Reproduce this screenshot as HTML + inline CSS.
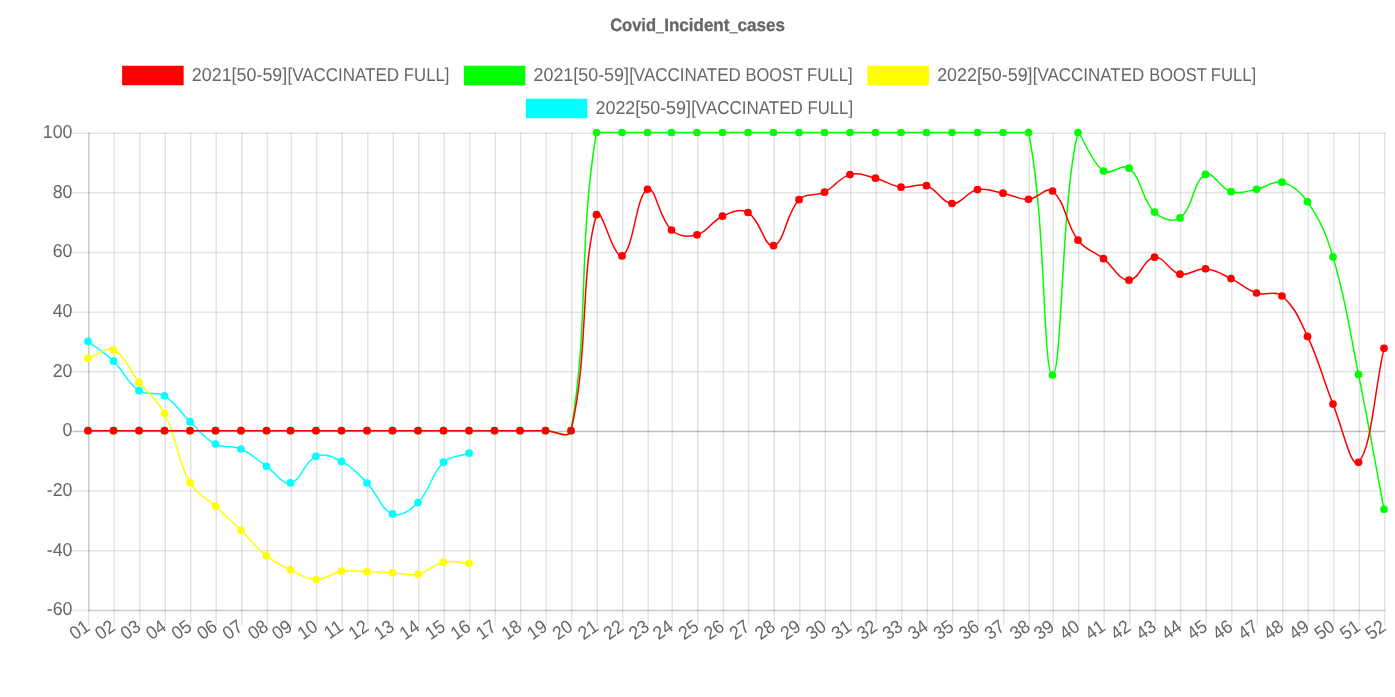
<!DOCTYPE html>
<html lang="en"><head><meta charset="utf-8"><title>Covid_Incident_cases</title>
<style>
html,body{margin:0;padding:0;background:#fff;overflow:hidden}
body{width:1395px;height:697px;font-family:"Liberation Sans", sans-serif}
svg{display:block;text-rendering:geometricPrecision}
</style></head><body>
<svg width="1395" height="697" viewBox="0 0 1395 697" font-family='"Liberation Sans", sans-serif' fill="#666">
<text y="30.90" font-size="17.9" font-weight="bold" stroke="#666" stroke-width="0.3"><tspan x="610.18" textLength="45.87" lengthAdjust="spacingAndGlyphs">Covid</tspan><tspan x="656.11" textLength="7.75" lengthAdjust="spacingAndGlyphs">_</tspan><tspan x="664.18" textLength="65.24" lengthAdjust="spacingAndGlyphs">Incident</tspan><tspan x="729.70" textLength="7.75" lengthAdjust="spacingAndGlyphs">_</tspan><tspan x="737.51" textLength="47.42" lengthAdjust="spacingAndGlyphs">cases</tspan></text>
<rect x="122.9" y="66.5" width="60" height="18" fill="#ff0000" stroke="#ff0000" stroke-width="1.5"/>
<text y="80.85" font-size="18.6" ><tspan x="191.83" textLength="95.43" lengthAdjust="spacingAndGlyphs">2021[50-59]</tspan><tspan x="287.43" textLength="111.60" lengthAdjust="spacingAndGlyphs">[VACCINATED</tspan> <tspan x="403.87" textLength="45.50" lengthAdjust="spacingAndGlyphs">FULL]</tspan></text>
<rect x="464.6" y="66.5" width="60" height="18" fill="#00ff00" stroke="#00ff00" stroke-width="1.5"/>
<text y="80.85" font-size="18.6" ><tspan x="533.53" textLength="95.43" lengthAdjust="spacingAndGlyphs">2021[50-59]</tspan><tspan x="629.13" textLength="111.60" lengthAdjust="spacingAndGlyphs">[VACCINATED</tspan> <tspan x="745.60" textLength="57.23" lengthAdjust="spacingAndGlyphs">BOOST</tspan> <tspan x="807.09" textLength="45.50" lengthAdjust="spacingAndGlyphs">FULL]</tspan></text>
<rect x="868.2" y="66.5" width="60" height="18" fill="#ffff00" stroke="#ffff00" stroke-width="1.5"/>
<text y="80.85" font-size="18.6" ><tspan x="937.13" textLength="95.43" lengthAdjust="spacingAndGlyphs">2022[50-59]</tspan><tspan x="1032.73" textLength="111.60" lengthAdjust="spacingAndGlyphs">[VACCINATED</tspan> <tspan x="1149.20" textLength="57.23" lengthAdjust="spacingAndGlyphs">BOOST</tspan> <tspan x="1210.69" textLength="45.50" lengthAdjust="spacingAndGlyphs">FULL]</tspan></text>
<rect x="526.6" y="99.5" width="60" height="18" fill="#00ffff" stroke="#00ffff" stroke-width="1.5"/>
<text y="113.85" font-size="18.6" ><tspan x="595.53" textLength="95.43" lengthAdjust="spacingAndGlyphs">2022[50-59]</tspan><tspan x="691.13" textLength="111.60" lengthAdjust="spacingAndGlyphs">[VACCINATED</tspan> <tspan x="807.57" textLength="45.50" lengthAdjust="spacingAndGlyphs">FULL]</tspan></text>
<g fill="none"><path d="M88.75 132.45V625.65" stroke="rgba(0,0,0,0.1)" stroke-width="1.5"/><path d="M114.25 132.45V625.65" stroke="rgba(0,0,0,0.1)" stroke-width="1.5"/><path d="M139.75 132.45V625.65" stroke="rgba(0,0,0,0.1)" stroke-width="1.5"/><path d="M165.25 132.45V625.65" stroke="rgba(0,0,0,0.1)" stroke-width="1.5"/><path d="M190.75 132.45V625.65" stroke="rgba(0,0,0,0.1)" stroke-width="1.5"/><path d="M216.25 132.45V625.65" stroke="rgba(0,0,0,0.1)" stroke-width="1.5"/><path d="M241.75 132.45V625.65" stroke="rgba(0,0,0,0.1)" stroke-width="1.5"/><path d="M267.25 132.45V625.65" stroke="rgba(0,0,0,0.1)" stroke-width="1.5"/><path d="M291.25 132.45V625.65" stroke="rgba(0,0,0,0.1)" stroke-width="1.5"/><path d="M316.75 132.45V625.65" stroke="rgba(0,0,0,0.1)" stroke-width="1.5"/><path d="M342.25 132.45V625.65" stroke="rgba(0,0,0,0.1)" stroke-width="1.5"/><path d="M367.75 132.45V625.65" stroke="rgba(0,0,0,0.1)" stroke-width="1.5"/><path d="M393.25 132.45V625.65" stroke="rgba(0,0,0,0.1)" stroke-width="1.5"/><path d="M418.75 132.45V625.65" stroke="rgba(0,0,0,0.1)" stroke-width="1.5"/><path d="M444.25 132.45V625.65" stroke="rgba(0,0,0,0.1)" stroke-width="1.5"/><path d="M469.75 132.45V625.65" stroke="rgba(0,0,0,0.1)" stroke-width="1.5"/><path d="M495.25 132.45V625.65" stroke="rgba(0,0,0,0.1)" stroke-width="1.5"/><path d="M520.75 132.45V625.65" stroke="rgba(0,0,0,0.1)" stroke-width="1.5"/><path d="M546.25 132.45V625.65" stroke="rgba(0,0,0,0.1)" stroke-width="1.5"/><path d="M571.75 132.45V625.65" stroke="rgba(0,0,0,0.1)" stroke-width="1.5"/><path d="M597.25 132.45V625.65" stroke="rgba(0,0,0,0.1)" stroke-width="1.5"/><path d="M622.75 132.45V625.65" stroke="rgba(0,0,0,0.1)" stroke-width="1.5"/><path d="M648.25 132.45V625.65" stroke="rgba(0,0,0,0.1)" stroke-width="1.5"/><path d="M672.25 132.45V625.65" stroke="rgba(0,0,0,0.1)" stroke-width="1.5"/><path d="M697.75 132.45V625.65" stroke="rgba(0,0,0,0.1)" stroke-width="1.5"/><path d="M723.25 132.45V625.65" stroke="rgba(0,0,0,0.1)" stroke-width="1.5"/><path d="M748.75 132.45V625.65" stroke="rgba(0,0,0,0.1)" stroke-width="1.5"/><path d="M774.25 132.45V625.65" stroke="rgba(0,0,0,0.1)" stroke-width="1.5"/><path d="M799.75 132.45V625.65" stroke="rgba(0,0,0,0.1)" stroke-width="1.5"/><path d="M825.25 132.45V625.65" stroke="rgba(0,0,0,0.1)" stroke-width="1.5"/><path d="M850.75 132.45V625.65" stroke="rgba(0,0,0,0.1)" stroke-width="1.5"/><path d="M876.25 132.45V625.65" stroke="rgba(0,0,0,0.1)" stroke-width="1.5"/><path d="M901.75 132.45V625.65" stroke="rgba(0,0,0,0.1)" stroke-width="1.5"/><path d="M927.25 132.45V625.65" stroke="rgba(0,0,0,0.1)" stroke-width="1.5"/><path d="M952.75 132.45V625.65" stroke="rgba(0,0,0,0.1)" stroke-width="1.5"/><path d="M978.25 132.45V625.65" stroke="rgba(0,0,0,0.1)" stroke-width="1.5"/><path d="M1003.75 132.45V625.65" stroke="rgba(0,0,0,0.1)" stroke-width="1.5"/><path d="M1029.25 132.45V625.65" stroke="rgba(0,0,0,0.1)" stroke-width="1.5"/><path d="M1053.25 132.45V625.65" stroke="rgba(0,0,0,0.1)" stroke-width="1.5"/><path d="M1078.75 132.45V625.65" stroke="rgba(0,0,0,0.1)" stroke-width="1.5"/><path d="M1104.25 132.45V625.65" stroke="rgba(0,0,0,0.1)" stroke-width="1.5"/><path d="M1129.75 132.45V625.65" stroke="rgba(0,0,0,0.1)" stroke-width="1.5"/><path d="M1155.25 132.45V625.65" stroke="rgba(0,0,0,0.1)" stroke-width="1.5"/><path d="M1180.75 132.45V625.65" stroke="rgba(0,0,0,0.1)" stroke-width="1.5"/><path d="M1206.25 132.45V625.65" stroke="rgba(0,0,0,0.1)" stroke-width="1.5"/><path d="M1231.75 132.45V625.65" stroke="rgba(0,0,0,0.1)" stroke-width="1.5"/><path d="M1257.25 132.45V625.65" stroke="rgba(0,0,0,0.1)" stroke-width="1.5"/><path d="M1282.75 132.45V625.65" stroke="rgba(0,0,0,0.1)" stroke-width="1.5"/><path d="M1308.25 132.45V625.65" stroke="rgba(0,0,0,0.1)" stroke-width="1.5"/><path d="M1333.75 132.45V625.65" stroke="rgba(0,0,0,0.1)" stroke-width="1.5"/><path d="M1359.25 132.45V625.65" stroke="rgba(0,0,0,0.1)" stroke-width="1.5"/><path d="M1384.75 132.45V625.65" stroke="rgba(0,0,0,0.1)" stroke-width="1.5"/><path d="M72.55 133.20H1384.95" stroke="rgba(0,0,0,0.1)" stroke-width="1.5"/><path d="M72.55 192.85H1384.95" stroke="rgba(0,0,0,0.1)" stroke-width="1.5"/><path d="M72.55 252.50H1384.95" stroke="rgba(0,0,0,0.1)" stroke-width="1.5"/><path d="M72.55 312.15H1384.95" stroke="rgba(0,0,0,0.1)" stroke-width="1.5"/><path d="M72.55 371.80H1384.95" stroke="rgba(0,0,0,0.1)" stroke-width="1.5"/><path d="M72.55 431.45H1384.95" stroke="rgba(0,0,0,0.25)" stroke-width="1.5"/><path d="M72.55 491.10H1384.95" stroke="rgba(0,0,0,0.1)" stroke-width="1.5"/><path d="M72.55 550.75H1384.95" stroke="rgba(0,0,0,0.1)" stroke-width="1.5"/><path d="M72.55 610.40H1384.95" stroke="rgba(0,0,0,0.1)" stroke-width="1.5"/><path d="M88.75 132.45V611.15" stroke="rgba(0,0,0,0.1)" stroke-width="1.5"/><path d="M88.00 610.40H1384.95" stroke="rgba(0,0,0,0.1)" stroke-width="1.5"/></g>
<text class="yl" transform="translate(72.4 138.05) scale(0.955 1)" font-size="18.6" text-anchor="end">100</text>
<text class="yl" transform="translate(72.4 197.70) scale(0.955 1)" font-size="18.6" text-anchor="end">80</text>
<text class="yl" transform="translate(72.4 257.35) scale(0.955 1)" font-size="18.6" text-anchor="end">60</text>
<text class="yl" transform="translate(72.4 317.00) scale(0.955 1)" font-size="18.6" text-anchor="end">40</text>
<text class="yl" transform="translate(72.4 376.65) scale(0.955 1)" font-size="18.6" text-anchor="end">20</text>
<text class="yl" transform="translate(72.4 436.30) scale(0.955 1)" font-size="18.6" text-anchor="end">0</text>
<text class="yl" transform="translate(72.4 495.95) scale(0.955 1)" font-size="18.6" text-anchor="end">-20</text>
<text class="yl" transform="translate(72.4 555.60) scale(0.955 1)" font-size="18.6" text-anchor="end">-40</text>
<text class="yl" transform="translate(72.4 615.25) scale(0.955 1)" font-size="18.6" text-anchor="end">-60</text>
<text class="xl" transform="translate(88.00 624.65) rotate(-35) scale(0.955 1)" x="0" y="5.6" font-size="18.6" text-anchor="end">01</text>
<text class="xl" transform="translate(113.50 624.65) rotate(-35) scale(0.955 1)" x="0" y="5.6" font-size="18.6" text-anchor="end">02</text>
<text class="xl" transform="translate(139.00 624.65) rotate(-35) scale(0.955 1)" x="0" y="5.6" font-size="18.6" text-anchor="end">03</text>
<text class="xl" transform="translate(164.50 624.65) rotate(-35) scale(0.955 1)" x="0" y="5.6" font-size="18.6" text-anchor="end">04</text>
<text class="xl" transform="translate(190.00 624.65) rotate(-35) scale(0.955 1)" x="0" y="5.6" font-size="18.6" text-anchor="end">05</text>
<text class="xl" transform="translate(215.50 624.65) rotate(-35) scale(0.955 1)" x="0" y="5.6" font-size="18.6" text-anchor="end">06</text>
<text class="xl" transform="translate(241.00 624.65) rotate(-35) scale(0.955 1)" x="0" y="5.6" font-size="18.6" text-anchor="end">07</text>
<text class="xl" transform="translate(266.50 624.65) rotate(-35) scale(0.955 1)" x="0" y="5.6" font-size="18.6" text-anchor="end">08</text>
<text class="xl" transform="translate(290.50 624.65) rotate(-35) scale(0.955 1)" x="0" y="5.6" font-size="18.6" text-anchor="end">09</text>
<text class="xl" transform="translate(316.00 624.65) rotate(-35) scale(0.955 1)" x="0" y="5.6" font-size="18.6" text-anchor="end">10</text>
<text class="xl" transform="translate(341.50 624.65) rotate(-35) scale(0.955 1)" x="0" y="5.6" font-size="18.6" text-anchor="end">11</text>
<text class="xl" transform="translate(367.00 624.65) rotate(-35) scale(0.955 1)" x="0" y="5.6" font-size="18.6" text-anchor="end">12</text>
<text class="xl" transform="translate(392.50 624.65) rotate(-35) scale(0.955 1)" x="0" y="5.6" font-size="18.6" text-anchor="end">13</text>
<text class="xl" transform="translate(418.00 624.65) rotate(-35) scale(0.955 1)" x="0" y="5.6" font-size="18.6" text-anchor="end">14</text>
<text class="xl" transform="translate(443.50 624.65) rotate(-35) scale(0.955 1)" x="0" y="5.6" font-size="18.6" text-anchor="end">15</text>
<text class="xl" transform="translate(469.00 624.65) rotate(-35) scale(0.955 1)" x="0" y="5.6" font-size="18.6" text-anchor="end">16</text>
<text class="xl" transform="translate(494.50 624.65) rotate(-35) scale(0.955 1)" x="0" y="5.6" font-size="18.6" text-anchor="end">17</text>
<text class="xl" transform="translate(520.00 624.65) rotate(-35) scale(0.955 1)" x="0" y="5.6" font-size="18.6" text-anchor="end">18</text>
<text class="xl" transform="translate(545.50 624.65) rotate(-35) scale(0.955 1)" x="0" y="5.6" font-size="18.6" text-anchor="end">19</text>
<text class="xl" transform="translate(571.00 624.65) rotate(-35) scale(0.955 1)" x="0" y="5.6" font-size="18.6" text-anchor="end">20</text>
<text class="xl" transform="translate(596.50 624.65) rotate(-35) scale(0.955 1)" x="0" y="5.6" font-size="18.6" text-anchor="end">21</text>
<text class="xl" transform="translate(622.00 624.65) rotate(-35) scale(0.955 1)" x="0" y="5.6" font-size="18.6" text-anchor="end">22</text>
<text class="xl" transform="translate(647.50 624.65) rotate(-35) scale(0.955 1)" x="0" y="5.6" font-size="18.6" text-anchor="end">23</text>
<text class="xl" transform="translate(671.50 624.65) rotate(-35) scale(0.955 1)" x="0" y="5.6" font-size="18.6" text-anchor="end">24</text>
<text class="xl" transform="translate(697.00 624.65) rotate(-35) scale(0.955 1)" x="0" y="5.6" font-size="18.6" text-anchor="end">25</text>
<text class="xl" transform="translate(722.50 624.65) rotate(-35) scale(0.955 1)" x="0" y="5.6" font-size="18.6" text-anchor="end">26</text>
<text class="xl" transform="translate(748.00 624.65) rotate(-35) scale(0.955 1)" x="0" y="5.6" font-size="18.6" text-anchor="end">27</text>
<text class="xl" transform="translate(773.50 624.65) rotate(-35) scale(0.955 1)" x="0" y="5.6" font-size="18.6" text-anchor="end">28</text>
<text class="xl" transform="translate(799.00 624.65) rotate(-35) scale(0.955 1)" x="0" y="5.6" font-size="18.6" text-anchor="end">29</text>
<text class="xl" transform="translate(824.50 624.65) rotate(-35) scale(0.955 1)" x="0" y="5.6" font-size="18.6" text-anchor="end">30</text>
<text class="xl" transform="translate(850.00 624.65) rotate(-35) scale(0.955 1)" x="0" y="5.6" font-size="18.6" text-anchor="end">31</text>
<text class="xl" transform="translate(875.50 624.65) rotate(-35) scale(0.955 1)" x="0" y="5.6" font-size="18.6" text-anchor="end">32</text>
<text class="xl" transform="translate(901.00 624.65) rotate(-35) scale(0.955 1)" x="0" y="5.6" font-size="18.6" text-anchor="end">33</text>
<text class="xl" transform="translate(926.50 624.65) rotate(-35) scale(0.955 1)" x="0" y="5.6" font-size="18.6" text-anchor="end">34</text>
<text class="xl" transform="translate(952.00 624.65) rotate(-35) scale(0.955 1)" x="0" y="5.6" font-size="18.6" text-anchor="end">35</text>
<text class="xl" transform="translate(977.50 624.65) rotate(-35) scale(0.955 1)" x="0" y="5.6" font-size="18.6" text-anchor="end">36</text>
<text class="xl" transform="translate(1003.00 624.65) rotate(-35) scale(0.955 1)" x="0" y="5.6" font-size="18.6" text-anchor="end">37</text>
<text class="xl" transform="translate(1028.50 624.65) rotate(-35) scale(0.955 1)" x="0" y="5.6" font-size="18.6" text-anchor="end">38</text>
<text class="xl" transform="translate(1052.50 624.65) rotate(-35) scale(0.955 1)" x="0" y="5.6" font-size="18.6" text-anchor="end">39</text>
<text class="xl" transform="translate(1078.00 624.65) rotate(-35) scale(0.955 1)" x="0" y="5.6" font-size="18.6" text-anchor="end">40</text>
<text class="xl" transform="translate(1103.50 624.65) rotate(-35) scale(0.955 1)" x="0" y="5.6" font-size="18.6" text-anchor="end">41</text>
<text class="xl" transform="translate(1129.00 624.65) rotate(-35) scale(0.955 1)" x="0" y="5.6" font-size="18.6" text-anchor="end">42</text>
<text class="xl" transform="translate(1154.50 624.65) rotate(-35) scale(0.955 1)" x="0" y="5.6" font-size="18.6" text-anchor="end">43</text>
<text class="xl" transform="translate(1180.00 624.65) rotate(-35) scale(0.955 1)" x="0" y="5.6" font-size="18.6" text-anchor="end">44</text>
<text class="xl" transform="translate(1205.50 624.65) rotate(-35) scale(0.955 1)" x="0" y="5.6" font-size="18.6" text-anchor="end">45</text>
<text class="xl" transform="translate(1231.00 624.65) rotate(-35) scale(0.955 1)" x="0" y="5.6" font-size="18.6" text-anchor="end">46</text>
<text class="xl" transform="translate(1256.50 624.65) rotate(-35) scale(0.955 1)" x="0" y="5.6" font-size="18.6" text-anchor="end">47</text>
<text class="xl" transform="translate(1282.00 624.65) rotate(-35) scale(0.955 1)" x="0" y="5.6" font-size="18.6" text-anchor="end">48</text>
<text class="xl" transform="translate(1307.50 624.65) rotate(-35) scale(0.955 1)" x="0" y="5.6" font-size="18.6" text-anchor="end">49</text>
<text class="xl" transform="translate(1333.00 624.65) rotate(-35) scale(0.955 1)" x="0" y="5.6" font-size="18.6" text-anchor="end">50</text>
<text class="xl" transform="translate(1358.50 624.65) rotate(-35) scale(0.955 1)" x="0" y="5.6" font-size="18.6" text-anchor="end">51</text>
<text class="xl" transform="translate(1384.00 624.65) rotate(-35) scale(0.955 1)" x="0" y="5.6" font-size="18.6" text-anchor="end">52</text>
<path d="M88.00 341.30C98.20 349.26 104.25 352.24 113.50 361.20C124.65 372.00 126.76 382.40 139.00 390.70C147.16 396.24 155.99 390.63 164.50 395.80C176.39 403.03 179.45 411.71 190.00 421.70C199.85 431.03 203.94 437.91 215.50 444.10C224.34 448.83 231.67 444.94 241.00 449.00C252.07 453.82 256.33 459.34 266.50 466.30C276.13 472.90 281.74 484.65 290.50 482.90C301.54 480.69 304.05 461.44 316.00 456.40C324.45 452.84 332.58 456.75 341.50 461.40C352.98 467.39 357.72 473.45 367.00 483.00C378.12 494.45 380.47 509.28 392.50 513.90C400.87 517.12 410.48 510.22 418.00 502.60C430.88 489.54 430.47 474.82 443.50 462.20C450.87 455.06 458.80 456.80 469.00 453.20" fill="none" stroke="#00ffff" stroke-width="1.5" stroke-linejoin="miter"/>
<g fill="#00ffff"><circle cx="88.00" cy="341.30" r="3.85"/><circle cx="113.50" cy="361.20" r="3.85"/><circle cx="139.00" cy="390.70" r="3.85"/><circle cx="164.50" cy="395.80" r="3.85"/><circle cx="190.00" cy="421.70" r="3.85"/><circle cx="215.50" cy="444.10" r="3.85"/><circle cx="241.00" cy="449.00" r="3.85"/><circle cx="266.50" cy="466.30" r="3.85"/><circle cx="290.50" cy="482.90" r="3.85"/><circle cx="316.00" cy="456.40" r="3.85"/><circle cx="341.50" cy="461.40" r="3.85"/><circle cx="367.00" cy="483.00" r="3.85"/><circle cx="392.50" cy="513.90" r="3.85"/><circle cx="418.00" cy="502.60" r="3.85"/><circle cx="443.50" cy="462.20" r="3.85"/><circle cx="469.00" cy="453.20" r="3.85"/></g>
<path d="M88.00 358.30C98.20 354.98 105.45 346.21 113.50 350.00C125.85 355.81 128.69 369.47 139.00 382.30C149.09 394.87 157.29 399.31 164.50 413.50C177.69 439.47 176.12 457.48 190.00 482.70C196.52 494.56 205.36 496.74 215.50 506.20C225.76 515.78 230.95 520.51 241.00 530.30C251.35 540.39 255.31 546.95 266.50 555.90C275.11 562.79 280.50 565.13 290.50 569.90C300.30 574.57 305.72 579.24 316.00 579.50C326.12 579.76 331.04 572.82 341.50 571.20C351.44 569.66 356.80 571.30 367.00 571.60C377.20 571.90 382.30 572.18 392.50 572.70C402.70 573.22 408.30 576.20 418.00 574.20C428.70 572.00 432.80 564.47 443.50 562.20C453.20 560.15 458.80 562.92 469.00 563.40" fill="none" stroke="#ffff00" stroke-width="1.5" stroke-linejoin="miter"/>
<g fill="#ffff00"><circle cx="88.00" cy="358.30" r="3.85"/><circle cx="113.50" cy="350.00" r="3.85"/><circle cx="139.00" cy="382.30" r="3.85"/><circle cx="164.50" cy="413.50" r="3.85"/><circle cx="190.00" cy="482.70" r="3.85"/><circle cx="215.50" cy="506.20" r="3.85"/><circle cx="241.00" cy="530.30" r="3.85"/><circle cx="266.50" cy="555.90" r="3.85"/><circle cx="290.50" cy="569.90" r="3.85"/><circle cx="316.00" cy="579.50" r="3.85"/><circle cx="341.50" cy="571.20" r="3.85"/><circle cx="367.00" cy="571.60" r="3.85"/><circle cx="392.50" cy="572.70" r="3.85"/><circle cx="418.00" cy="574.20" r="3.85"/><circle cx="443.50" cy="562.20" r="3.85"/><circle cx="469.00" cy="563.40" r="3.85"/></g>
<path d="M88.00 430.70C98.20 430.70 103.30 430.70 113.50 430.70C123.70 430.70 128.80 430.70 139.00 430.70C149.20 430.70 154.30 430.70 164.50 430.70C174.70 430.70 179.80 430.70 190.00 430.70C200.20 430.70 205.30 430.70 215.50 430.70C225.70 430.70 230.80 430.70 241.00 430.70C251.20 430.70 256.30 430.70 266.50 430.70C276.10 430.70 280.90 430.70 290.50 430.70C300.70 430.70 305.80 430.70 316.00 430.70C326.20 430.70 331.30 430.70 341.50 430.70C351.70 430.70 356.80 430.70 367.00 430.70C377.20 430.70 382.30 430.70 392.50 430.70C402.70 430.70 407.80 430.70 418.00 430.70C428.20 430.70 433.30 430.70 443.50 430.70C453.70 430.70 458.80 430.70 469.00 430.70C479.20 430.70 484.30 430.70 494.50 430.70C504.70 430.70 509.80 430.70 520.00 430.70C530.20 430.70 535.30 430.70 545.50 430.70C555.70 430.70 569.40 440.06 571.00 430.70C589.80 320.78 577.70 242.42 596.50 132.50C598.10 132.45 611.80 132.50 622.00 132.50C632.20 132.50 637.30 132.50 647.50 132.50C657.10 132.50 661.90 132.50 671.50 132.50C681.70 132.50 686.80 132.50 697.00 132.50C707.20 132.50 712.30 132.50 722.50 132.50C732.70 132.50 737.80 132.50 748.00 132.50C758.20 132.50 763.30 132.50 773.50 132.50C783.70 132.50 788.80 132.50 799.00 132.50C809.20 132.50 814.30 132.50 824.50 132.50C834.70 132.50 839.80 132.50 850.00 132.50C860.20 132.50 865.30 132.50 875.50 132.50C885.70 132.50 890.80 132.50 901.00 132.50C911.20 132.50 916.30 132.50 926.50 132.50C936.70 132.50 941.80 132.50 952.00 132.50C962.20 132.50 967.30 132.50 977.50 132.50C987.70 132.50 992.80 132.50 1003.00 132.50C1013.20 132.50 1026.62 132.45 1028.50 132.50C1046.42 220.31 1042.60 375.00 1052.50 375.00C1062.40 375.00 1060.85 201.11 1078.00 132.50C1081.25 132.45 1090.39 161.82 1103.50 171.00C1110.79 176.10 1122.15 162.68 1129.00 168.20C1142.55 179.12 1141.04 198.98 1154.50 212.10C1161.44 218.86 1173.03 223.05 1180.00 217.90C1193.43 207.97 1192.84 180.90 1205.50 174.40C1213.24 170.42 1219.86 188.45 1231.00 191.70C1240.26 194.41 1246.47 191.17 1256.50 189.30C1266.87 187.37 1272.79 179.94 1282.00 182.20C1293.19 184.94 1300.44 191.45 1307.50 201.80C1320.84 221.33 1326.16 233.73 1333.00 256.90C1346.56 302.77 1348.98 327.26 1358.50 374.40C1369.38 428.22 1373.80 455.34 1384.00 509.30" fill="none" stroke="#00ff00" stroke-width="1.5" stroke-linejoin="miter"/>
<g fill="#00ff00"><circle cx="88.00" cy="430.70" r="3.85"/><circle cx="113.50" cy="430.70" r="3.85"/><circle cx="139.00" cy="430.70" r="3.85"/><circle cx="164.50" cy="430.70" r="3.85"/><circle cx="190.00" cy="430.70" r="3.85"/><circle cx="215.50" cy="430.70" r="3.85"/><circle cx="241.00" cy="430.70" r="3.85"/><circle cx="266.50" cy="430.70" r="3.85"/><circle cx="290.50" cy="430.70" r="3.85"/><circle cx="316.00" cy="430.70" r="3.85"/><circle cx="341.50" cy="430.70" r="3.85"/><circle cx="367.00" cy="430.70" r="3.85"/><circle cx="392.50" cy="430.70" r="3.85"/><circle cx="418.00" cy="430.70" r="3.85"/><circle cx="443.50" cy="430.70" r="3.85"/><circle cx="469.00" cy="430.70" r="3.85"/><circle cx="494.50" cy="430.70" r="3.85"/><circle cx="520.00" cy="430.70" r="3.85"/><circle cx="545.50" cy="430.70" r="3.85"/><circle cx="571.00" cy="430.70" r="3.85"/><circle cx="596.50" cy="132.50" r="3.85"/><circle cx="622.00" cy="132.50" r="3.85"/><circle cx="647.50" cy="132.50" r="3.85"/><circle cx="671.50" cy="132.50" r="3.85"/><circle cx="697.00" cy="132.50" r="3.85"/><circle cx="722.50" cy="132.50" r="3.85"/><circle cx="748.00" cy="132.50" r="3.85"/><circle cx="773.50" cy="132.50" r="3.85"/><circle cx="799.00" cy="132.50" r="3.85"/><circle cx="824.50" cy="132.50" r="3.85"/><circle cx="850.00" cy="132.50" r="3.85"/><circle cx="875.50" cy="132.50" r="3.85"/><circle cx="901.00" cy="132.50" r="3.85"/><circle cx="926.50" cy="132.50" r="3.85"/><circle cx="952.00" cy="132.50" r="3.85"/><circle cx="977.50" cy="132.50" r="3.85"/><circle cx="1003.00" cy="132.50" r="3.85"/><circle cx="1028.50" cy="132.50" r="3.85"/><circle cx="1052.50" cy="375.00" r="3.85"/><circle cx="1078.00" cy="132.50" r="3.85"/><circle cx="1103.50" cy="171.00" r="3.85"/><circle cx="1129.00" cy="168.20" r="3.85"/><circle cx="1154.50" cy="212.10" r="3.85"/><circle cx="1180.00" cy="217.90" r="3.85"/><circle cx="1205.50" cy="174.40" r="3.85"/><circle cx="1231.00" cy="191.70" r="3.85"/><circle cx="1256.50" cy="189.30" r="3.85"/><circle cx="1282.00" cy="182.20" r="3.85"/><circle cx="1307.50" cy="201.80" r="3.85"/><circle cx="1333.00" cy="256.90" r="3.85"/><circle cx="1358.50" cy="374.40" r="3.85"/><circle cx="1384.00" cy="509.30" r="3.85"/></g>
<path d="M88.00 430.70C98.20 430.70 103.30 430.70 113.50 430.70C123.70 430.70 128.80 430.70 139.00 430.70C149.20 430.70 154.30 430.70 164.50 430.70C174.70 430.70 179.80 430.70 190.00 430.70C200.20 430.70 205.30 430.70 215.50 430.70C225.70 430.70 230.80 430.70 241.00 430.70C251.20 430.70 256.30 430.70 266.50 430.70C276.10 430.70 280.90 430.70 290.50 430.70C300.70 430.70 305.80 430.70 316.00 430.70C326.20 430.70 331.30 430.70 341.50 430.70C351.70 430.70 356.80 430.70 367.00 430.70C377.20 430.70 382.30 430.70 392.50 430.70C402.70 430.70 407.80 430.70 418.00 430.70C428.20 430.70 433.30 430.70 443.50 430.70C453.70 430.70 458.80 430.70 469.00 430.70C479.20 430.70 484.30 430.70 494.50 430.70C504.70 430.70 509.80 430.70 520.00 430.70C530.20 430.70 535.30 430.70 545.50 430.70C555.70 430.70 568.86 439.77 571.00 430.70C589.26 353.37 579.82 271.88 596.50 214.70C600.22 201.96 613.75 260.01 622.00 255.90C634.15 249.85 635.59 195.53 647.50 189.30C655.39 185.17 658.72 218.25 671.50 230.00C678.52 236.45 687.80 237.29 697.00 234.80C708.20 231.77 711.27 221.11 722.50 216.20C731.67 212.19 740.23 208.00 748.00 212.50C760.63 219.80 764.46 247.97 773.50 245.70C784.86 242.85 785.45 213.92 799.00 199.70C805.85 192.52 815.08 196.84 824.50 192.20C835.48 186.80 838.86 177.66 850.00 174.60C859.26 172.06 865.55 175.74 875.50 178.20C885.95 180.78 890.51 185.66 901.00 187.20C910.91 188.66 917.30 182.76 926.50 185.70C937.70 189.28 941.45 202.69 952.00 203.50C961.85 204.25 966.69 191.78 977.50 189.60C987.09 187.66 992.89 191.28 1003.00 193.20C1013.29 195.16 1018.44 199.75 1028.50 199.30C1038.24 198.87 1046.28 185.86 1052.50 191.00C1066.08 202.22 1064.99 222.94 1078.00 240.20C1085.39 250.02 1093.59 250.93 1103.50 258.70C1113.99 266.93 1118.95 280.50 1129.00 280.20C1139.35 279.90 1143.72 258.47 1154.50 257.20C1164.12 256.07 1168.98 271.69 1180.00 274.20C1189.38 276.33 1195.54 267.94 1205.50 268.80C1215.94 269.70 1221.15 273.93 1231.00 278.60C1241.55 283.61 1245.63 289.29 1256.50 293.00C1266.03 296.25 1274.87 289.93 1282.00 296.00C1295.27 307.29 1299.39 319.20 1307.50 336.40C1319.79 362.44 1322.14 377.29 1333.00 404.10C1342.54 427.65 1351.31 470.16 1358.50 462.30C1371.71 447.84 1373.80 393.90 1384.00 348.30" fill="none" stroke="#ff0000" stroke-width="1.5" stroke-linejoin="miter"/>
<g fill="#ff0000"><circle cx="88.00" cy="430.70" r="3.85"/><circle cx="113.50" cy="430.70" r="3.85"/><circle cx="139.00" cy="430.70" r="3.85"/><circle cx="164.50" cy="430.70" r="3.85"/><circle cx="190.00" cy="430.70" r="3.85"/><circle cx="215.50" cy="430.70" r="3.85"/><circle cx="241.00" cy="430.70" r="3.85"/><circle cx="266.50" cy="430.70" r="3.85"/><circle cx="290.50" cy="430.70" r="3.85"/><circle cx="316.00" cy="430.70" r="3.85"/><circle cx="341.50" cy="430.70" r="3.85"/><circle cx="367.00" cy="430.70" r="3.85"/><circle cx="392.50" cy="430.70" r="3.85"/><circle cx="418.00" cy="430.70" r="3.85"/><circle cx="443.50" cy="430.70" r="3.85"/><circle cx="469.00" cy="430.70" r="3.85"/><circle cx="494.50" cy="430.70" r="3.85"/><circle cx="520.00" cy="430.70" r="3.85"/><circle cx="545.50" cy="430.70" r="3.85"/><circle cx="571.00" cy="430.70" r="3.85"/><circle cx="596.50" cy="214.70" r="3.85"/><circle cx="622.00" cy="255.90" r="3.85"/><circle cx="647.50" cy="189.30" r="3.85"/><circle cx="671.50" cy="230.00" r="3.85"/><circle cx="697.00" cy="234.80" r="3.85"/><circle cx="722.50" cy="216.20" r="3.85"/><circle cx="748.00" cy="212.50" r="3.85"/><circle cx="773.50" cy="245.70" r="3.85"/><circle cx="799.00" cy="199.70" r="3.85"/><circle cx="824.50" cy="192.20" r="3.85"/><circle cx="850.00" cy="174.60" r="3.85"/><circle cx="875.50" cy="178.20" r="3.85"/><circle cx="901.00" cy="187.20" r="3.85"/><circle cx="926.50" cy="185.70" r="3.85"/><circle cx="952.00" cy="203.50" r="3.85"/><circle cx="977.50" cy="189.60" r="3.85"/><circle cx="1003.00" cy="193.20" r="3.85"/><circle cx="1028.50" cy="199.30" r="3.85"/><circle cx="1052.50" cy="191.00" r="3.85"/><circle cx="1078.00" cy="240.20" r="3.85"/><circle cx="1103.50" cy="258.70" r="3.85"/><circle cx="1129.00" cy="280.20" r="3.85"/><circle cx="1154.50" cy="257.20" r="3.85"/><circle cx="1180.00" cy="274.20" r="3.85"/><circle cx="1205.50" cy="268.80" r="3.85"/><circle cx="1231.00" cy="278.60" r="3.85"/><circle cx="1256.50" cy="293.00" r="3.85"/><circle cx="1282.00" cy="296.00" r="3.85"/><circle cx="1307.50" cy="336.40" r="3.85"/><circle cx="1333.00" cy="404.10" r="3.85"/><circle cx="1358.50" cy="462.30" r="3.85"/><circle cx="1384.00" cy="348.30" r="3.85"/></g>
</svg>
</body></html>
